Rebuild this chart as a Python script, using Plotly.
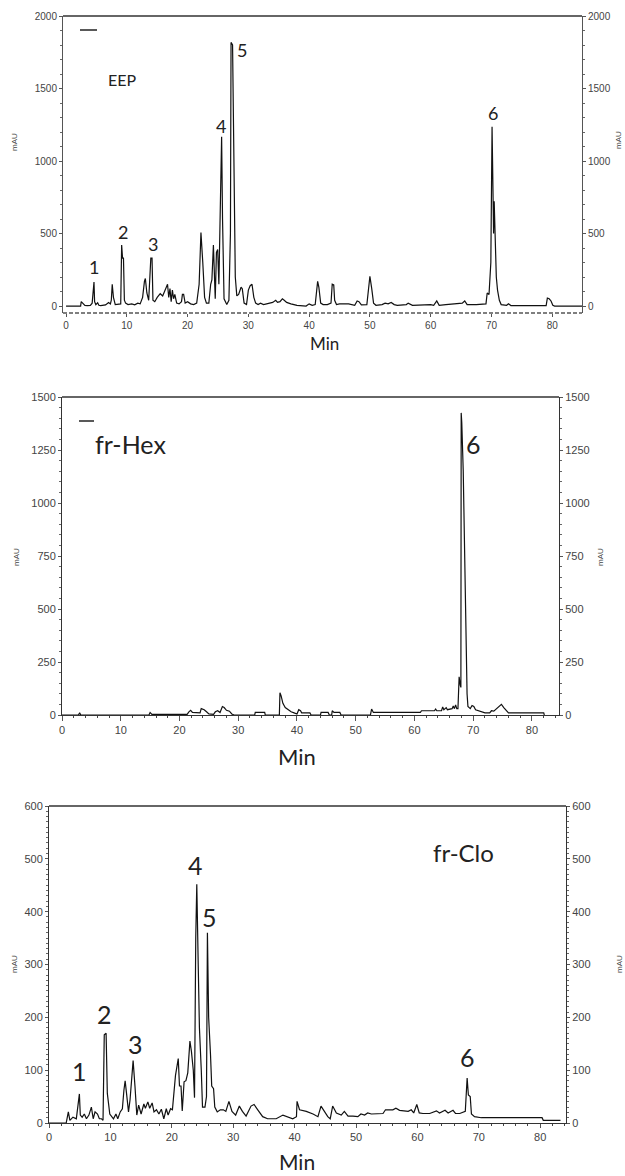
import plotly.graph_objects as go

# ---------------- data ----------------
eep_min = [0, 2.4, 2.5, 2.7, 2.9, 3.1, 3.5, 4.0, 4.3, 4.45, 4.6, 4.7, 4.9, 5.2, 5.4, 5.7, 6.5, 7.0, 7.3, 7.45,
           7.6, 7.8, 8.1, 9.0, 9.15, 9.3, 9.45, 9.6, 9.8, 10.2, 10.8, 11.3, 11.8, 12.2, 12.6, 12.9, 13.05, 13.3,
           13.6, 13.95, 14.05, 14.15, 14.3, 14.6, 15.0, 15.5, 15.9, 16.3, 16.5, 16.7, 16.9, 17.1, 17.3, 17.5,
           17.7, 17.9, 18.2, 18.6, 19.0, 19.15, 19.35, 19.6, 20.0, 20.5, 21.0, 21.5, 21.9, 22.2, 22.5, 22.8,
           23.1, 23.5, 23.8, 24.0, 24.25, 24.4, 24.55, 24.75, 24.95, 25.15, 25.35, 25.6, 25.75, 26.0, 26.45,
           26.8, 27.05, 27.15, 27.4, 27.6, 27.85, 28.1, 28.4, 28.8, 29.0, 29.3, 29.7, 30.0, 30.3, 30.6, 30.9,
           31.2, 31.6, 32.0, 32.5, 33.0, 33.5, 34.0, 34.5, 34.8, 35.2, 35.6, 35.9, 36.3, 37.0, 38.0, 39.5,
           40.0, 40.5, 41.0, 41.4, 41.6, 41.9, 42.3, 43.0, 43.6, 43.8, 44.05, 44.2, 44.5, 45.0, 46.5, 47.5,
           47.9, 48.2, 48.6, 49.5, 49.8, 50.0, 50.3, 50.6, 51.0, 52.0, 52.5, 53.0, 53.5, 54.0, 54.5, 56.0,
           56.3, 57.0, 60.0, 60.5, 61.0, 61.4, 62.5, 64.0, 65.2, 65.6, 66.0, 67.5, 68.5, 69.1, 69.3, 69.6,
           69.9, 70.1, 70.25, 70.35, 70.45, 70.6, 70.8, 71.0, 71.3, 71.6, 72.5, 72.8, 73.2, 79.0, 79.2, 79.5,
           79.8, 80.1, 80.4, 84.9]
eep_mau = [0, 0, 30, 22, 10, 5, 3, 5, 20, 110, 165, 30, 10, 22, 5, 3, 8, 25, 15, 40,
           150, 60, 10, 15, 420, 330, 330, 40, 20, 10, 15, 8, 20, 15, 60, 170, 190, 90,
           40, 330, 330, 330, 40, 30, 60, 85, 70, 110, 140, 150, 60, 120, 30, 110,
           50, 80, 20, 15, 30, 80, 80, 20, 30, 15, 10, 20, 150, 507, 300, 60,
           20, 20, 150, 180, 420, 130, 50, 370, 390, 150, 600, 1168, 600, 50, 10,
           40, 500, 1818, 1800, 1000, 200, 70, 80, 130, 120, 20, 10, 110, 140, 150, 60,
           20, 10, 20, 10, 15, 20, 25, 40, 25, 30, 50, 40, 25, 15, 5, 0,
           15, 5, 10, 170, 130, 20, 10, 10, 20, 150, 145, 40, 10, 15, 15, 5,
           35, 30, 8, 10, 120, 205, 120, 20, 5, 10, 20, 15, 25, 10, 5, 10,
           20, 5, 10, 5, 35, 5, 10, 15, 20, 35, 10, 10, 10, 15, 90, 80,
           300, 1237, 800, 500, 723, 400, 200, 110, 40, 10, 5, 15, 3, 3, 55, 50,
           35, 5, 0, 0]

hex_min = [0, 2.8, 3.0, 3.2, 14.8, 15.0, 15.3, 21.3, 21.6, 21.9, 22.2, 23.0, 23.5, 23.7, 24.2, 24.6, 25.0,
           25.8, 26.1, 26.5, 26.9, 27.3, 27.6, 28.0, 28.5, 28.9, 29.3, 32.8, 32.9, 34.5, 34.6, 37.0, 37.1,
           37.3, 37.6, 38.0, 38.5, 39.0, 39.5, 40.0, 40.3, 40.6, 40.8, 42.2, 42.4, 44.0, 44.1, 45.3, 45.5,
           45.9, 46.0, 46.3, 47.3, 47.5, 52.5, 52.7, 53.0, 61.0, 61.2, 63.4, 63.6, 63.8, 64.6, 64.8, 65.0,
           65.4, 65.6, 66.4, 66.6, 66.8, 67.0, 67.2, 67.4, 67.6, 67.8, 67.9, 67.95, 68.05, 68.3, 68.65,
           68.95, 69.1, 69.5, 69.8, 70.1, 70.4, 71.0, 72.0, 72.8, 73.1, 73.5, 74.0, 74.5, 74.8, 75.2,
           75.6, 76.0, 82.0, 82.1]
hex_mau = [0, 0, 10, 0, 0, 12, 3, 3, 15, 22, 12, 10, 10, 30, 25, 15, 5,
           3, 15, 20, 12, 40, 35, 22, 18, 5, 0, 0, 12, 12, 0, 0, 105,
           90, 55, 35, 25, 15, 10, 5, 25, 20, 10, 10, 0, 0, 12, 12, 0,
           0, 20, 12, 12, 0, 0, 28, 12, 12, 20, 20, 28, 20, 20, 38, 25,
           35, 25, 30, 42, 30, 48, 30, 30, 180, 140, 130, 1425, 1380, 1150, 500,
           100, 40, 30, 45, 40, 25, 20, 10, 10, 20, 18, 30, 45, 50, 35,
           20, 10, 10, 0]

clo_min = [0, 2.8, 3.15, 3.4, 3.9, 4.45, 4.95, 5.1, 5.4, 5.75, 6.1, 6.5, 6.9, 7.2, 7.5, 7.9, 8.2, 8.55,
           8.8, 9.0, 9.3, 9.5, 9.9, 10.5, 10.9, 11.2, 11.6, 11.95, 12.2, 12.4, 12.6, 12.95, 13.2, 13.7,
           14.0, 14.3, 14.6, 15.0, 15.45, 15.7, 16.1, 16.4, 16.8, 17.1, 17.5, 17.9, 18.3, 18.7, 19.1,
           19.4, 19.8, 20.1, 20.6, 21.05, 21.25, 21.5, 21.7, 22.0, 22.3, 22.6, 22.95, 23.2, 23.5, 23.7,
           23.9, 24.07, 24.3, 24.5, 24.8, 25.0, 25.4, 25.65, 25.8, 26.0, 26.3, 26.5, 26.8, 27.0, 27.4,
           27.9, 28.4, 28.8, 29.3, 29.8, 30.4, 31.0, 31.5, 32.1, 32.9, 33.4, 34.0, 34.8, 35.6, 37.0,
           38.1, 38.9, 39.7, 40.3, 40.4, 40.8, 41.9, 43.0, 43.8, 44.3, 44.9, 45.4, 45.8, 46.2, 46.8,
           47.6, 48.1, 48.7, 49.5, 50.3, 50.8, 51.4, 51.9, 52.5, 54.4, 54.8, 56.0, 56.5, 57.1, 57.6,
           58.5, 59.0, 59.4, 59.9, 60.3, 60.9, 62.0, 63.1, 63.6, 64.5, 65.0, 65.8, 66.2, 66.9, 67.8,
           68.1, 68.3, 68.6, 68.8, 69.3, 70.1, 70.4, 80.3, 80.5, 83.3]
clo_mau = [0, 0, 21, 5, 11, 8, 55, 15, 11, 17, 8, 15, 30, 8, 21, 17, 8, 8,
           5, 167, 170, 56, 17, 8, 17, 8, 21, 27, 62, 80, 59, 21, 44, 118,
           70, 15, 34, 17, 36, 28, 40, 28, 38, 21, 25, 17, 26, 8, 27,
           15, 27, 25, 90, 122, 70, 70, 23, 78, 80, 95, 155, 135, 100, 48,
           350, 452, 300, 180, 100, 30, 30, 50, 360, 200, 130, 70, 65, 30, 21,
           25, 25, 22, 41, 22, 15, 32, 22, 13, 32, 35, 25, 12, 8, 8,
           15, 12, 8, 12, 41, 25, 22, 17, 12, 32, 22, 12, 8, 32, 19,
           15, 22, 13, 13, 12, 17, 15, 19, 17, 18, 25, 25, 28, 24, 23,
           22, 25, 19, 35, 19, 18, 18, 23, 19, 24, 19, 24, 18, 18, 22,
           85, 53, 50, 17, 12, 10, 10, 10, 5, 5]

peak_text = ["1", "2", "3", "4", "5", "6"]
eep_label_min = [4.6, 9.4, 14.3, 25.5, 29.0, 70.2]
eep_label_mau = [269, 510, 428, 1241, 1766, 1331]
hex_label_text = ["fr-Hex", "6"]
hex_label_min = [11.7, 70.0]
hex_label_mau = [1278, 1278]
clo_label_min = [4.9, 9.1, 14.1, 23.9, 26.1, 68.1]
clo_label_mau = [99, 206, 149, 488, 390, 124]

eep_ticks = [0, 500, 1000, 1500, 2000]
hex_ticks = [0, 250, 500, 750, 1000, 1250, 1500]
clo_ticks = [0, 100, 200, 300, 400, 500, 600]
min_ticks = [0, 10, 20, 30, 40, 50, 60, 70, 80]

# ---------------- layout helpers ----------------
W, H = 625, 1176
def fx(p):
    return p / W
def fy(p):
    return 1 - p / H

TICKFONT = dict(family="Liberation Sans, Arial, sans-serif", size=10, color="#444")
LABELFONT = "Lato, Carlito, Open Sans, sans-serif"
AXC = "#555"

fig = go.Figure()
line = dict(color="#111", width=1.2)
fig.add_trace(go.Scatter(x=eep_min, y=eep_mau, mode="lines", line=line, xaxis="x", yaxis="y",
                         showlegend=False, hoverinfo="skip"))
fig.add_trace(go.Scatter(x=[], y=[], mode="lines", xaxis="x", yaxis="y2", showlegend=False))
fig.add_trace(go.Scatter(x=hex_min, y=hex_mau, mode="lines", line=line, xaxis="x2", yaxis="y3",
                         showlegend=False, hoverinfo="skip"))
fig.add_trace(go.Scatter(x=[], y=[], mode="lines", xaxis="x2", yaxis="y4", showlegend=False))
fig.add_trace(go.Scatter(x=clo_min, y=clo_mau, mode="lines", line=line, xaxis="x3", yaxis="y5",
                         showlegend=False, hoverinfo="skip"))
fig.add_trace(go.Scatter(x=[], y=[], mode="lines", xaxis="x3", yaxis="y6", showlegend=False))

panels = [
    dict(px=(63, 582), py=(16, 313), xr=[-0.5, 84.9], yr=[-48, 2000], yt=eep_ticks, ymin=100,
         xminor=None, showx=False, xtl=3, xfont=10),
    dict(px=(62, 559), py=(397, 715), xr=[0, 84.6], yr=[0, 1500], yt=hex_ticks, ymin=50,
         xminor=2, showx=True, xtl=5, xfont=11),
    dict(px=(49, 566), py=(806, 1123), xr=[0, 84.2], yr=[0, 600], yt=clo_ticks, ymin=10,
         xminor=2, showx=True, xtl=4, xfont=11),
]

layout = dict(width=W, height=H, margin=dict(l=0, r=0, t=0, b=0, autoexpand=False),
              paper_bgcolor="white", plot_bgcolor="white", showlegend=False)
shapes = []
for i, p in enumerate(panels):
    xn = "xaxis" if i == 0 else f"xaxis{i+1}"
    xid = "x" if i == 0 else f"x{i+1}"
    yl = 2 * i + 1
    yr_ = 2 * i + 2
    yln = "yaxis" if yl == 1 else f"yaxis{yl}"
    ylid = "y" if yl == 1 else f"y{yl}"
    yrn = f"yaxis{yr_}"
    xdom = [fx(p["px"][0]), fx(p["px"][1])]
    ydom = [fy(p["py"][1]), fy(p["py"][0])]
    xa = dict(domain=xdom, range=p["xr"], anchor=ylid, tickvals=min_ticks, ticks="outside",
              ticklen=p["xtl"], tickcolor=AXC, showgrid=False, zeroline=False,
              showline=p["showx"], linecolor="#333", linewidth=1, automargin=False,
              tickfont=dict(TICKFONT, size=p["xfont"]), fixedrange=True)
    if p["xminor"]:
        xa["minor"] = dict(ticks="outside", ticklen=2, dtick=p["xminor"], tick0=0, tickcolor="#444",
                           showgrid=False)
    layout[xn] = xa
    yfont = dict(TICKFONT, size=10 if i == 0 else 11)
    ya = dict(domain=ydom, range=p["yr"], anchor=xid, tickvals=p["yt"], ticks="outside", ticklen=3,
              tickcolor=AXC, showline=True, linecolor=AXC if i == 0 else "#333", linewidth=1,
              showgrid=False, zeroline=False, tickfont=yfont, fixedrange=True, automargin=False,
              minor=dict(ticks="outside", ticklen=2, dtick=p["ymin"], tick0=0, tickcolor="#666",
                         showgrid=False))
    layout[yln] = ya
    layout[yrn] = dict(overlaying=ylid, side="right", anchor=xid, range=p["yr"], tickvals=p["yt"],
                       ticks="outside", ticklen=3, tickcolor=AXC, showline=True,
                       linecolor=AXC if i == 0 else "#333", linewidth=1, showgrid=False,
                       zeroline=False, tickfont=yfont, fixedrange=True, automargin=False,
                       minor=dict(ticks="outside", ticklen=2, dtick=p["ymin"], tick0=0,
                                  tickcolor="#666", showgrid=False))
    # top border
    shapes.append(dict(type="line", xref="paper", yref="paper", x0=xdom[0], x1=xdom[1],
                       y0=ydom[1], y1=ydom[1], line=dict(color="#666", width=2)))

# dashed bottom axis line of the first panel
shapes.append(dict(type="line", xref="paper", yref="paper", x0=fx(63), x1=fx(582),
                   y0=fy(313), y1=fy(313), line=dict(color="#555", width=1.5, dash="4px,2px")))
# short legend-like dashes
shapes.append(dict(type="line", xref="paper", yref="paper", x0=fx(80), x1=fx(97),
                   y0=fy(30), y1=fy(30), line=dict(color="#222", width=1.5)))
shapes.append(dict(type="line", xref="paper", yref="paper", x0=fx(79), x1=fx(94),
                   y0=fy(421), y1=fy(421), line=dict(color="#222", width=1.5)))
layout["shapes"] = shapes

C = dict(xanchor="center", yanchor="middle", showarrow=False)
ann = []
for t, x, y in zip(peak_text, eep_label_min, eep_label_mau):
    ann.append(dict(C, text=t, x=x, y=y, xref="x", yref="y",
                    font=dict(family=LABELFONT, size=18, color="#222")))
ann.append(dict(C, text="EEP", x=fx(122), y=fy(79), xref="paper", yref="paper",
                font=dict(family=LABELFONT, size=16, color="#222")))
for t, x, y in zip(hex_label_text, hex_label_min, hex_label_mau):
    ann.append(dict(C, text=t, x=x, y=y, xref="x2", yref="y3",
                    font=dict(family=LABELFONT, size=25, color="#222")))
for t, x, y in zip(peak_text, clo_label_min, clo_label_mau):
    ann.append(dict(C, text=t, x=x, y=y, xref="x3", yref="y5",
                    font=dict(family=LABELFONT, size=25, color="#222")))
ann.append(dict(C, text="fr-Clo", x=fx(464), y=fy(852), xref="paper", yref="paper",
                font=dict(family=LABELFONT, size=24, color="#222")))
# axis titles
ann.append(dict(C, text="Min", x=fx(324), y=fy(343), xref="paper", yref="paper", borderpad=0,
                font=dict(family=LABELFONT, size=17, color="#222")))
ann.append(dict(C, text="Min", x=fx(297), y=fy(756), xref="paper", yref="paper",
                font=dict(family=LABELFONT, size=22, color="#222")))
ann.append(dict(text="Min", x=fx(297), y=fy(1175), xref="paper", yref="paper", xanchor="center",
                yanchor="bottom", borderpad=0, showarrow=False,
                font=dict(family=LABELFONT, size=21, color="#222")))
for (px_, py_) in [(15, 142), (618, 140), (16, 557), (600, 557), (14, 964), (619, 964)]:
    ann.append(dict(C, text="mAU", x=fx(px_), y=fy(py_), xref="paper", yref="paper",
                    textangle=-90, font=dict(family="Liberation Sans, Arial, sans-serif", size=8,
                                             color="#444")))
layout["annotations"] = ann

fig.update_layout(**layout)
fig.write_html("out.html", config={"displayModeBar": False},
               post_script="document.body.style.margin='0px';document.body.style.padding='0px';")
